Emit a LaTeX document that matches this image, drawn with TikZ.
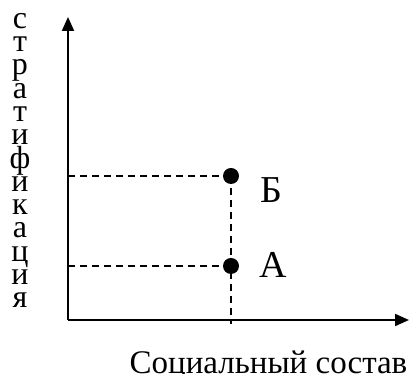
\documentclass[tikz,border=0pt]{standalone}
\usepackage{fontspec}
\setmainfont{Liberation Serif}
\usetikzlibrary{arrows.meta}

\begin{document}
\begin{tikzpicture}[
    x=1pt, y=1pt,
    axis/.style={-{Triangle[length=14pt,width=12pt]}, line width=2pt},
    guide/.style={dash pattern=on 7pt off 5pt, line width=1.4pt},
    dot/.style={circle, fill=black, inner sep=0pt, minimum size=16pt},
    lbl/.style={font=\fontsize{38}{38}\selectfont, inner sep=0pt},
    axlbl/.style={font=\fontsize{33}{33}\selectfont, inner sep=0pt}
]
\useasboundingbox (0,0) rectangle (410,374);
% Axes
\coordinate (O) at (68,54);
\coordinate (ytop) at (68,357);
\coordinate (xend) at (409,54);
\draw[axis] (O) -- (ytop);
\draw[axis] (O) -- (xend);
% Guide lines
\coordinate (pB) at (231,198);
\coordinate (pA) at (231,108);
\coordinate (yB) at (68,198);
\coordinate (yA) at (68,108);
\coordinate (xP) at (231,50);
\draw[guide] (yB) -- (pB);
\draw[guide] (yA) -- (pA);
\draw[guide] (pB) -- (xP);
% Points
\node[dot] (B) at (pB) {};
\node[dot] (A) at (pA) {};
\node[lbl] (Blbl) at (271.5,183.5) {Б};
\node[lbl] (Albl) at (273.5,109) {А};
% Axis labels
\node[axlbl, align=center, anchor=north, font=\fontsize{32}{23.3}\selectfont] (ylab) at (20,361)
  {с\\т\\р\\а\\т\\и\\ф\\и\\к\\а\\ц\\и\\я};
\node[axlbl, anchor=base] (xlab) at (268.5,0) {Социальный состав};
\end{tikzpicture}
\end{document}
